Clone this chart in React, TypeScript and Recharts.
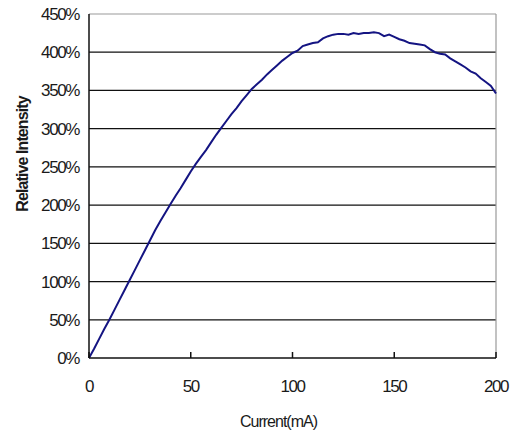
import { LineChart, Line, XAxis, YAxis, CartesianGrid, ReferenceLine } from "recharts";

const currentMA = [
  0, 2.5, 5, 7.5, 10, 12.5, 15, 17.5, 20, 22.5, 25, 27.5, 30, 32.5, 35, 37.5, 40, 42.5, 45, 47.5,
  50, 52.5, 55, 57.5, 60, 62.5, 65, 67.5, 70, 72.5, 75, 77.5, 80, 82.5, 85, 87.5, 90, 92.5, 95, 97.5,
  100, 102.5, 105, 107.5, 110, 112.5, 115, 117.5, 120, 122.5, 125, 127.5, 130, 132.5, 135, 137.5, 140, 142.5, 145, 147.5,
  150, 152.5, 155, 157.5, 160, 162.5, 165, 167.5, 170, 172.5, 175, 177.5, 180, 182.5, 185, 187.5, 190, 192.5, 195, 197.5, 200,
];
const intensityPct = [
  0, 12, 25, 38, 50, 63, 76, 89, 102, 115, 128, 141, 154, 167, 179, 190, 201, 212, 222, 233,
  244, 254, 263, 272, 282, 292, 301, 310, 319, 327, 336, 344, 352, 358, 364, 371, 377, 383, 389, 394,
  399, 402, 408, 410, 412, 413, 418, 421, 423, 424, 424, 423, 425, 424, 425, 425, 426, 425, 421, 423,
  420, 417, 415, 412, 411, 410, 409, 404, 400, 398, 397, 392, 388, 384, 380, 375, 372, 366, 361, 356, 346,
];
const yTicks = [0, 50, 100, 150, 200, 250, 300, 350, 400, 450];
const xTicks = [0, 50, 100, 150, 200];

const data = currentMA.map((c, i) => ({ current: c, intensity: intensityPct[i] }));

const FONT = "'Liberation Sans', Arial, sans-serif";
const TEXT = "#1a1a1a";

export default function App() {
  return (
    <div style={{ position: "absolute", left: 0, top: 0, width: 517, height: 438, background: "#fff" }}>
      <LineChart width={517} height={438} data={data} margin={{ top: 14, right: 21, bottom: 20, left: 0 }}>
        <CartesianGrid vertical={false} stroke="#111" strokeWidth={1.2} horizontalValues={yTicks.slice(1, -1)} />
        <XAxis
          dataKey="current"
          type="number"
          domain={[0, 200]}
          ticks={xTicks}
          height={60}
          stroke="#111"
          strokeWidth={1.5}
          tickSize={-6}
          tickMargin={28}
          tick={{ fill: TEXT, fontSize: 17, fontFamily: FONT, letterSpacing: -1.4 }}
          label={{
            content: ({ viewBox }: any) => (
              <text x={viewBox.x + viewBox.width / 2 - 14} y={viewBox.y + 69} textAnchor="middle"
                fill={TEXT} fontSize={16} fontFamily={FONT} letterSpacing={-1}>Current(mA)</text>
            ),
          }}
        />
        <YAxis
          type="number"
          domain={[0, 450]}
          ticks={yTicks}
          width={89}
          stroke="#111"
          strokeWidth={1.5}
          tickLine={false}
          tickSize={0}
          tickMargin={10}
          tickFormatter={(v) => `${v}%`}
          tick={{ fill: TEXT, fontSize: 17, fontFamily: FONT, letterSpacing: -1.4 }}
          label={{
            content: () => (
              <text transform="translate(28,154) rotate(-90)" textAnchor="middle"
                fill={TEXT} fontSize={16} fontWeight="bold" fontFamily={FONT} letterSpacing={-0.9}>Relative Intensity</text>
            ),
          }}
        />
        <ReferenceLine y={450} stroke="#999" strokeWidth={1.2} />
        <ReferenceLine x={200} stroke="#999" strokeWidth={1.2} />
        <Line
          type="linear"
          dataKey="intensity"
          stroke="#141482"
          strokeWidth={2}
          dot={false}
          isAnimationActive={false}
        />
      </LineChart>
    </div>
  );
}
